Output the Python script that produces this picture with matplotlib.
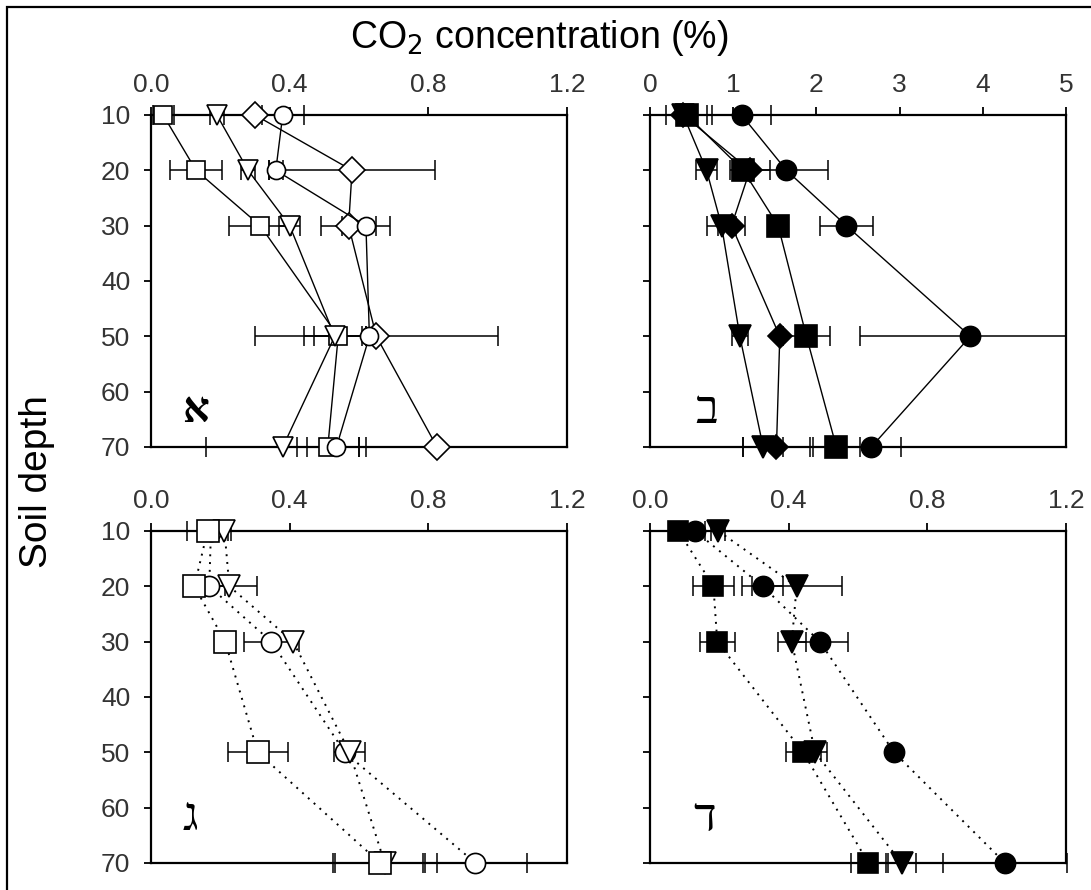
import matplotlib
matplotlib.use("Agg")
import matplotlib.pyplot as plt
from matplotlib.patches import Rectangle

plt.rcParams['font.family'] = ['Liberation Sans', 'DejaVu Sans']

# ============================================================
# Data
# ============================================================
depth = [10, 20, 30, 50, 70]

# panel A - hollow markers, solid lines
a_square = [0.035, 0.13, 0.315, 0.54, 0.51]
a_square_err = [0.03, 0.075, 0.09, 0.07, 0.09]
a_tri = [0.19, 0.28, 0.40, 0.53, 0.38]
a_tri_err = [0.02, 0.02, 0.03, 0.09, 0.22]
a_dia = [0.30, 0.58, 0.57, 0.65, 0.825]
a_dia_err = [0.0, 0.24, 0.08, 0.35, 0.0]
a_circ = [0.38, 0.36, 0.62, 0.63, 0.535]
a_circ_err = [0.06, 0.02, 0.07, 0.01, 0.085]

# panel B - filled markers, solid lines (circle at 50 cm runs off the axis)
b_circ = [1.10, 1.64, 2.36, 3.85, 2.66]
b_circ_err_lo = [0.36, 0.5, 0.32, 1.33, 0.36]
b_circ_err_hi = [0.36, 0.5, 0.32, 1.15, 0.36]
b_square = [0.44, 1.12, 1.54, 1.88, 2.24]
b_square_err = [0.25, 0.1, 0.05, 0.28, 0.28]
b_dia = [0.40, 1.20, 0.98, 1.56, 1.52]
b_dia_err = [0.0, 0.24, 0.16, 0.0, 0.4]
b_tri = [0.40, 0.68, 0.86, 1.08, 1.36]
b_tri_err = [0.0, 0.13, 0.17, 0.1, 0.24]

# panel C - hollow markers, dotted lines
c_square = [0.163, 0.125, 0.214, 0.308, 0.661]
c_square_err = [0.06, 0.0, 0.0, 0.087, 0.13]
c_circ = [0.173, 0.168, 0.347, 0.559, 0.936]
c_circ_err = [0.0, 0.045, 0.08, 0.0, 0.15]
c_tri = [0.212, 0.226, 0.41, 0.573, 0.674]
c_tri_err = [0.02, 0.08, 0.0, 0.045, 0.15]

# panel D - filled markers, dotted lines
d_square = [0.082, 0.183, 0.194, 0.442, 0.63]
d_square_err = [0.0, 0.06, 0.05, 0.05, 0.05]
d_circ = [0.13, 0.325, 0.49, 0.704, 1.024]
d_circ_err = [0.03, 0.06, 0.08, 0.0, 0.18]
d_tri = [0.197, 0.423, 0.409, 0.476, 0.726]
d_tri_err = [0.02, 0.13, 0.04, 0.035, 0.04]

ticks_small = [0.0, 0.4, 0.8, 1.2]
ticks_big = [0, 1, 2, 3, 4, 5]
depth_ticks = [10, 20, 30, 40, 50, 60, 70]
panel_letters = ['א', 'ב', 'ג', 'ד']

# ============================================================
W, H = 1091, 890
fig = plt.figure(figsize=(W / 100, H / 100), dpi=100)


def px_axes(x0, x1, y0, y1):
    return fig.add_axes([x0 / W, 1 - y1 / H, (x1 - x0) / W, (y1 - y0) / H])


ax_a = px_axes(151, 567, 115, 447)
ax_b = px_axes(650, 1066, 115, 447)
ax_c = px_axes(151, 567, 531, 863)
ax_d = px_axes(650, 1066, 531, 863)


def plot_series(ax, x, err, marker, ms, filled, ls):
    ax.errorbar(x, depth, xerr=err, fmt='none', ecolor='black', elinewidth=1.1,
                capsize=7, capthick=1.1, zorder=2, clip_on=False)
    ax.plot(x, depth, color='black', linestyle=ls, linewidth=1.0 if ls == '-' else 1.4,
            marker=marker, markersize=ms,
            markerfacecolor='black' if filled else 'white',
            markeredgecolor='black', markeredgewidth=1.2, zorder=3, clip_on=False)


dotted = (0, (1, 3))

plot_series(ax_a, a_square, a_square_err, 's', 12.5, False, '-')
plot_series(ax_a, a_tri, a_tri_err, 'v', 15, False, '-')
plot_series(ax_a, a_dia, a_dia_err, 'D', 13, False, '-')
plot_series(ax_a, a_circ, a_circ_err, 'o', 13, False, '-')

plot_series(ax_b, b_circ, [b_circ_err_lo, b_circ_err_hi], 'o', 14.5, True, '-')
plot_series(ax_b, b_square, b_square_err, 's', 15.5, True, '-')
plot_series(ax_b, b_tri, b_tri_err, 'v', 16, True, '-')
plot_series(ax_b, b_dia, b_dia_err, 'D', 12.5, True, '-')

plot_series(ax_c, c_circ, c_circ_err, 'o', 14.5, False, dotted)
plot_series(ax_c, c_tri, c_tri_err, 'v', 15.5, False, dotted)
plot_series(ax_c, c_square, c_square_err, 's', 15.5, False, dotted)

plot_series(ax_d, d_circ, d_circ_err, 'o', 14.5, True, dotted)
plot_series(ax_d, d_tri, d_tri_err, 'v', 16.5, True, dotted)
plot_series(ax_d, d_square, d_square_err, 's', 15, True, dotted)

letter_pos = [(0.106, 0.105), (0.137, 0.105), (0.096, 0.133), (0.132, 0.13)]
for i, ax in enumerate([ax_a, ax_b, ax_c, ax_d]):
    if ax is ax_b:
        ax.set_xlim(0, 5)
        ax.set_xticks(ticks_big)
        ax.set_xticklabels([str(t) for t in ticks_big])
    else:
        ax.set_xlim(0, 1.2)
        ax.set_xticks(ticks_small)
        ax.set_xticklabels([f"{t:.1f}" for t in ticks_small])
    ax.set_ylim(70, 10)
    ax.set_yticks(depth_ticks)
    if ax in (ax_a, ax_c):
        ax.set_yticklabels([str(t) for t in depth_ticks])
    else:
        ax.set_yticklabels([])
    ax.xaxis.tick_top()
    ax.tick_params(axis='x', direction='out', length=6, width=1.3, pad=7, labelsize=19,
                   labelcolor='#333333')
    ax.tick_params(axis='y', direction='out', length=5, width=1.3, pad=10, labelsize=19,
                   labelcolor='#333333')
    for s in ax.spines.values():
        s.set_linewidth(1.6)
    lx, ly = letter_pos[i]
    ax.text(lx, ly, panel_letters[i], transform=ax.transAxes, ha='center', va='center',
            fontsize=34 if i else 30, fontweight='bold' if i == 0 else 'normal',
            family=['Liberation Serif', 'DejaVu Serif', 'DejaVu Sans'])

fig.text(539 / W, 1 - 48 / H, 'CO$_2$ concentration (%)', ha='center', va='baseline',
         fontsize=27)
fig.text(37 / W, 1 - 482 / H, 'Soil depth', rotation=90, ha='center', va='center',
         fontsize=28)

# outer frame (cropped on right and bottom)
fig.add_artist(Rectangle((7 / W, -0.05), 1.1, 1 - 7 / H + 0.05, transform=fig.transFigure,
                         fill=False, edgecolor='black', linewidth=1.6))

fig.savefig('out.png', dpi=100)
